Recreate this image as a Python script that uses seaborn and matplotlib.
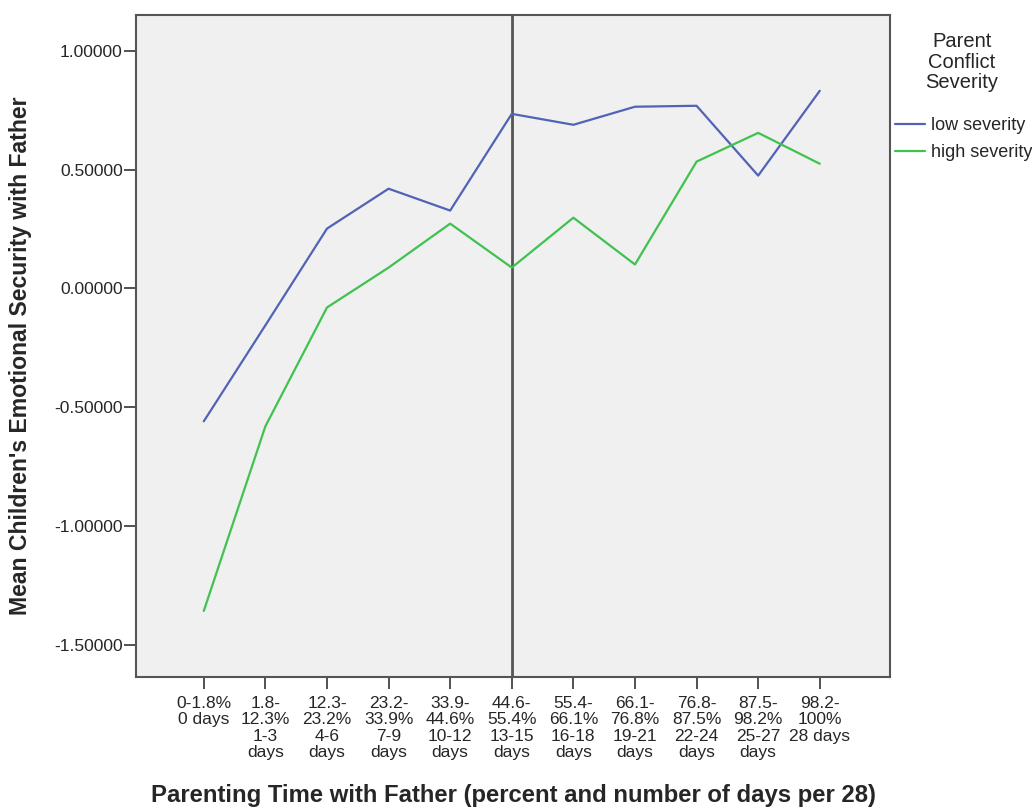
import numpy as np
import pandas as pd
import matplotlib
matplotlib.use('Agg')
import matplotlib.pyplot as plt
import seaborn as sns

# Category labels along the x axis
categories = ['0-1.8%\n0 days', '1.8-\n12.3%\n1-3\ndays', '12.3-\n23.2%\n4-6\ndays',
              '23.2-\n33.9%\n7-9\ndays', '33.9-\n44.6%\n10-12\ndays', '44.6-\n55.4%\n13-15\ndays',
              '55.4-\n66.1%\n16-18\ndays', '66.1-\n76.8%\n19-21\ndays', '76.8-\n87.5%\n22-24\ndays',
              '87.5-\n98.2%\n25-27\ndays', '98.2-\n100%\n28 days']

# Mean values
low_severity = [-0.559, -0.155, 0.252, 0.420, 0.328, 0.735, 0.689, 0.765, 0.769, 0.475, 0.832]
high_severity = [-1.357, -0.580, -0.080, 0.088, 0.273, 0.088, 0.298, 0.101, 0.534, 0.655, 0.525]
yticks = [1.0, 0.5, 0.0, -0.5, -1.0, -1.5]

df = pd.DataFrame({
    'pos': list(range(len(categories))) * 2,
    'value': low_severity + high_severity,
    'severity': ['low severity'] * len(categories) + ['high severity'] * len(categories),
})

sns.set_style('white')
plt.rcParams['font.family'] = ['Liberation Sans', 'DejaVu Sans']

fig = plt.figure(figsize=(10.32, 8.07), dpi=100)
ax = fig.add_axes([0.1318, 0.1611, 0.7306, 0.8203])
ax.set_facecolor('#F0F0F0')

colors = {'low severity': '#5163B5', 'high severity': '#3FC24F'}
sns.lineplot(data=df, x='pos', y='value', hue='severity', palette=colors,
             linewidth=1.6, ax=ax, legend=False)

# reference line at the middle category
ax.axvline(5, color='#555555', linewidth=2, zorder=1)

ax.set_xlim(-1.1, 11.14)
ax.set_ylim(-1.635, 1.151)
ax.set_xticks(range(len(categories)))
ax.set_xticklabels(categories, fontsize=12.5, linespacing=1.13)
ax.set_yticks(yticks)
ax.set_yticklabels(['%.5f' % v for v in yticks], fontsize=12.5)
ax.tick_params(axis='both', direction='out', length=8.5, width=1.2, color='#333333',
               pad=1, bottom=True, left=True)
ax.tick_params(axis='x', pad=5)

for s in ax.spines.values():
    s.set_color('#555555')
    s.set_linewidth(1.5)

ax.set_xlabel('Parenting Time with Father (percent and number of days per 28)',
              fontsize=17.2, fontweight='bold', labelpad=17)
ax.set_ylabel("Mean Children's Emotional Security with Father",
              fontsize=16.6, fontweight='bold')
ax.yaxis.set_label_coords(-0.138, 0.485)

# legend drawn to the right of the axes
fig.text(0.932, 0.96, 'Parent\nConflict\nSeverity', ha='center', va='top',
         fontsize=14.5, linespacing=1.1)
handles = [plt.Line2D([], [], color=colors['low severity'], linewidth=1.6),
           plt.Line2D([], [], color=colors['high severity'], linewidth=1.6)]
fig.legend(handles, ['low severity', 'high severity'], loc='upper left',
           bbox_to_anchor=(0.867, 0.855), frameon=False, fontsize=13, borderpad=0,
           handlelength=1.7, handletextpad=0.3, labelspacing=0.55, borderaxespad=0)

plt.savefig('out.png', dpi=100)
